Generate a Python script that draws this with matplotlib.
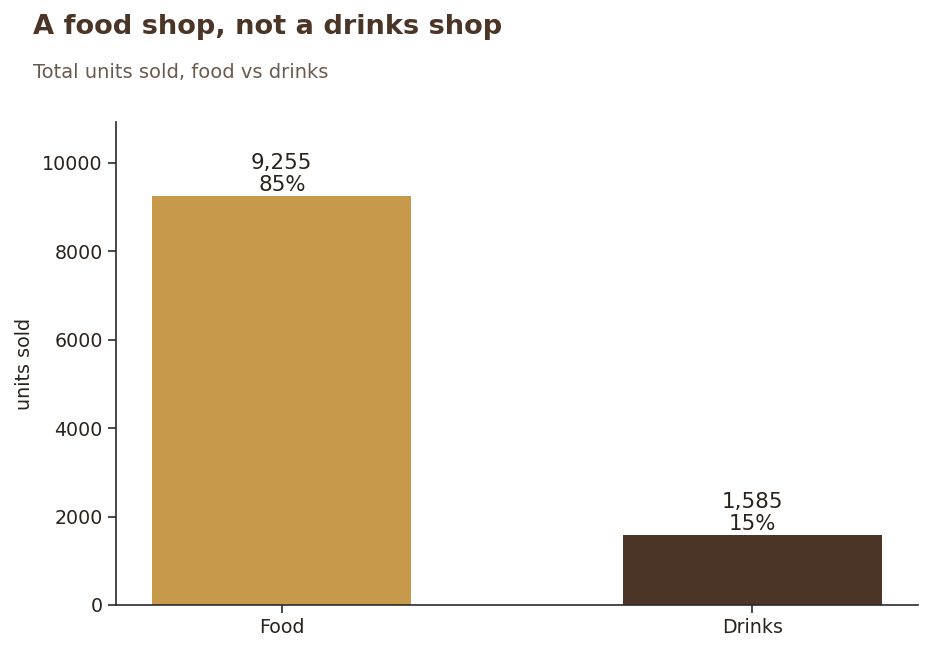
import matplotlib
matplotlib.use("Agg")
import matplotlib.pyplot as plt

categories = ["Food", "Drinks"]
units = [9255, 1585]
colors = ["#C69A4A", "#4A3527"]

total = sum(units)
shares = [u / total * 100 for u in units]

dpi = 100
fig = plt.figure(figsize=(9.32, 6.52), dpi=dpi)
ax = fig.add_axes([116/932, 1 - 605/652, (918-116)/932, (605-122)/652])

txt = "#2A221C"
x = list(range(len(categories)))
bars = ax.bar(x, units, width=0.55, color=colors)
ax.set_xticks(x)
ax.set_xticklabels(categories)
ax.set_ylim(0, max(units) * 1.18)
ax.set_ylabel("units sold", fontsize=13.8, color=txt, labelpad=6)

for b, u, s in zip(bars, units, shares):
    ax.annotate(f"{u:,}\n{s:.0f}%", (b.get_x() + b.get_width()/2, b.get_height()),
                xytext=(0, 0.5), textcoords="offset points", ha="center", va="bottom",
                fontsize=15.4, color=txt, linespacing=1.15)

for sp in ["top", "right"]:
    ax.spines[sp].set_visible(False)
for sp in ["left", "bottom"]:
    ax.spines[sp].set_linewidth(1.2)
    ax.spines[sp].set_color("#2A2A2A")
ax.tick_params(axis="both", labelsize=13.7, colors=txt, length=6, width=1.2)
ax.tick_params(axis="both", color="#2A2A2A")

fig.text(33/932, 1 - 34/652, "A food shop, not a drinks shop", fontsize=19.6,
         fontweight="bold", color="#4A3527", ha="left", va="baseline")
fig.text(33/932, 1 - 78/652, "Total units sold, food vs drinks", fontsize=14,
         color="#6B5B4E", ha="left", va="baseline")

fig.savefig("out.png", dpi=dpi)
